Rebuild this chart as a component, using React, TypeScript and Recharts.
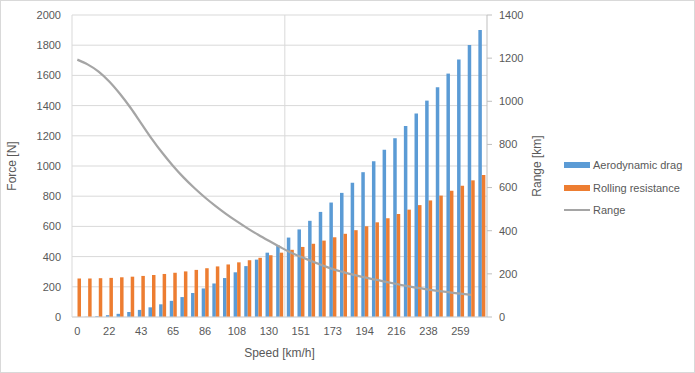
import React from 'react';
import { ComposedChart, Bar, Line, XAxis, YAxis, CartesianGrid, Legend, ReferenceLine } from 'recharts';

const speeds = [0, 7.2, 14.4, 21.6, 28.8, 36, 43.2, 50.4, 57.6, 64.8, 72, 79.2, 86.4, 93.6, 100.8, 108, 115.2, 122.4, 129.6, 136.8, 144, 151.2, 158.4, 165.6, 172.8, 180, 187.2, 194.4, 201.6, 208.8, 216, 223.2, 230.4, 237.6, 244.8, 252, 259.2, 266.4, 273.6];

const aeroDrag = [0, 1.3, 5, 12, 21, 33, 47, 64, 84, 107, 132, 159, 189, 222, 258, 296, 337, 380, 426, 475, 526, 580, 637, 696, 758, 822, 889, 959, 1032, 1107, 1184, 1265, 1348, 1433, 1522, 1612, 1706, 1802, 1900];

const rollingResistance = [255, 255, 257, 259, 263, 267, 272, 278, 285, 293, 302, 312, 323, 335, 348, 362, 376, 392, 409, 426, 445, 464, 485, 506, 528, 551, 575, 601, 627, 654, 682, 711, 741, 772, 804, 836, 870, 905, 940];

const range = [1193, 1170, 1138, 1092, 1035, 970, 898, 826, 760, 700, 646, 598, 554, 514, 477, 443, 411, 381, 353, 326, 300, 279, 259, 240, 222, 208, 195, 184, 173, 163, 153, 143, 135, 127, 120, 114, 108, 103, null];

const forceTicks = [0, 200, 400, 600, 800, 1000, 1200, 1400, 1600, 1800, 2000];
const rangeTicks = [0, 200, 400, 600, 800, 1000, 1200, 1400];

const seriesNames = { aero: 'Aerodynamic drag', roll: 'Rolling resistance', range: 'Range' };

const data = speeds.map((s, i) => ({
  speed: s,
  aero: aeroDrag[i],
  roll: rollingResistance[i],
  range: range[i],
}));

const FONT = '"Liberation Sans", Arial, sans-serif';
const TXT = '#595959';
const BLUE = '#5b9bd5';
const ORANGE = '#ed7d31';
const GRAY = '#a5a5a5';
const GRID = '#d9d9d9';
const AXIS = '#bfbfbf';

const LegendBox = () => (
  <div style={{ fontFamily: FONT, fontSize: 11, color: TXT }}>
    {[
      { name: seriesNames.aero, color: BLUE, kind: 'bar' },
      { name: seriesNames.roll, color: ORANGE, kind: 'bar' },
      { name: seriesNames.range, color: GRAY, kind: 'line' },
    ].map((it) => (
      <div key={it.name} style={{ display: 'flex', alignItems: 'center', height: 22.5 }}>
        <div style={{ width: 26, height: it.kind === 'bar' ? 6 : 2, background: it.color, marginRight: 3 }} />
        <span style={{ whiteSpace: 'nowrap' }}>{it.name}</span>
      </div>
    ))}
  </div>
);

export default function App() {
  const tickStyle = { fill: TXT, fontSize: 11, fontFamily: FONT };
  return (
    <div style={{ position: 'absolute', left: 0, top: 0, width: 695, height: 373, background: '#fff' }}>
      <ComposedChart
        width={695}
        height={373}
        data={data}
        margin={{ top: 15, right: 148, bottom: 16, left: 0 }}
        barGap={0}
      >
        <CartesianGrid yAxisId="left" vertical={false} stroke={GRID} strokeWidth={1} />
        <XAxis
          dataKey="speed"
          type="category"
          interval={2}
          tickFormatter={(v: number) => String(Math.round(v))}
          tick={tickStyle}
          tickLine={false}
          tickSize={6}
          tickMargin={4}
          axisLine={{ stroke: GRID }}
          height={40}
          label={{ value: 'Speed [km/h]', position: 'insideBottom', offset: 0, style: { fill: TXT, fontSize: 12, fontFamily: FONT } }}
        />
        <YAxis
          yAxisId="left"
          domain={[0, 2000]}
          ticks={forceTicks}
          width={72}
          tick={tickStyle}
          tickLine={false}
          tickSize={6}
          tickMargin={5}
          axisLine={{ stroke: GRID }}
          label={{ value: 'Force [N]', angle: -90, position: 'insideLeft', offset: 12, style: { textAnchor: 'middle', fill: TXT, fontSize: 12, fontFamily: FONT } }}
        />
        <YAxis
          yAxisId="right"
          orientation="right"
          domain={[0, 1400]}
          ticks={rangeTicks}
          width={60}
          tick={{ ...tickStyle, textAnchor: 'start' }}
          tickLine={{ stroke: AXIS }}
          tickSize={5}
          tickMargin={7}
          axisLine={{ stroke: AXIS }}
          label={{ value: 'Range [km]', angle: -90, position: 'insideLeft', offset: 50, style: { textAnchor: 'middle', fill: TXT, fontSize: 12, fontFamily: FONT } }}
        />
        <ReferenceLine yAxisId="left" x={speeds[20]} position="start" stroke={GRID} strokeWidth={1} />
        <Bar yAxisId="left" dataKey="aero" name={seriesNames.aero} fill={BLUE} barSize={3.5} isAnimationActive={false} />
        <Bar yAxisId="left" dataKey="roll" name={seriesNames.roll} fill={ORANGE} barSize={3.5} isAnimationActive={false} />
        <Line
          yAxisId="right"
          dataKey="range"
          name={seriesNames.range}
          type="monotone"
          stroke={GRAY}
          strokeWidth={2.25}
          dot={false}
          activeDot={false}
          isAnimationActive={false}
        />
        <Legend
          layout="horizontal"
          verticalAlign="middle"
          align="center"
          content={() => <LegendBox />}
          wrapperStyle={{ position: 'absolute', left: 564, top: 154, width: 'auto', height: 'auto' }}
        />
      </ComposedChart>
      <div style={{ position: 'absolute', left: 0, top: 0, width: 695, height: 373, boxSizing: 'border-box', border: '1px solid #d9d9d9', pointerEvents: 'none' }} />
    </div>
  );
}
